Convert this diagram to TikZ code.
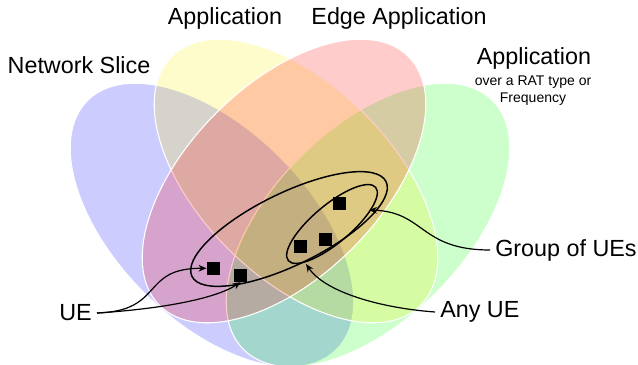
\documentclass[tikz,border=0pt]{standalone}
\usepackage{fontspec}
\setmainfont{Liberation Sans}
\usetikzlibrary{arrows.meta}

\begin{document}
\begin{tikzpicture}[x=0.75pt, y=0.75pt,
  venn/.style={fill opacity=0.2, draw=white, line width=0.8pt},
  group/.style={draw=black, line width=1.1pt},
  ue/.style={fill=black, minimum size=9.75pt, inner sep=0pt},
  lbl/.style={font=\fontsize{17.5}{21}\selectfont, inner sep=3.75pt},
  note/.style={font=\fontsize{10.5}{12.75}\selectfont, align=center},
  pointer/.style={line width=0.9pt, -{Stealth[length=6pt, width=5pt]}}]
\useasboundingbox (0,0) rectangle (638,364);
% the four sets
\foreach \col/\cx/\cy/\ang in {blue/212/139/-45, green/368/139/45, yellow/296/183/-45, red/284/183/45}
{
\filldraw[venn, fill=\col, rotate around={\ang:(\cx,\cy)}] (\cx,\cy) ellipse [x radius=176, y radius=96];
}
% groups of UEs
\draw[group, rotate around={26:(289,135)}] (289,135) ellipse [x radius=108, y radius=36];
\draw[group, rotate around={40:(332,140)}] (332,140) ellipse [x radius=57, y radius=19];
\coordinate (any tip) at (306,100);
\coordinate (grp tip) at (369,154);
\foreach \s/\x/\y in {1/339.7/160.7, 2/325.3/124.7, 3/300.7/117.3, 4/213.3/95.7, 5/240.7/88.7}
{
\node[ue] (ue\s) at (\x,\y) {};
}
\node[lbl] (slice) at (79,299) {Network Slice};
\node[lbl] (app) at (225,346) {Application};
\node[lbl] (edge) at (399,346) {Edge Application};
\node[lbl] (rat) at (534,306) {Application};
\node[note] (ratnote) at (533,273) {over a RAT type or\\Frequency};
\node[lbl, anchor=west] (grp) at (490,114) {Group of UEs};
\node[lbl, anchor=west] (any) at (435,52) {Any UE};
\node[lbl, anchor=east] (single) at (97,51) {UE};

\draw[pointer] (single.east) .. controls (165,53) and (140,96) .. (ue4.west);
\draw[pointer] (single.east) .. controls (160,55) and (215,65) .. (ue5.south);
\draw[pointer] (any.west) .. controls (380,56) and (325,72) .. (any tip);
\draw[pointer] (grp.west) .. controls (420,114) and (425,152) .. (grp tip);
\end{tikzpicture}
\end{document}
